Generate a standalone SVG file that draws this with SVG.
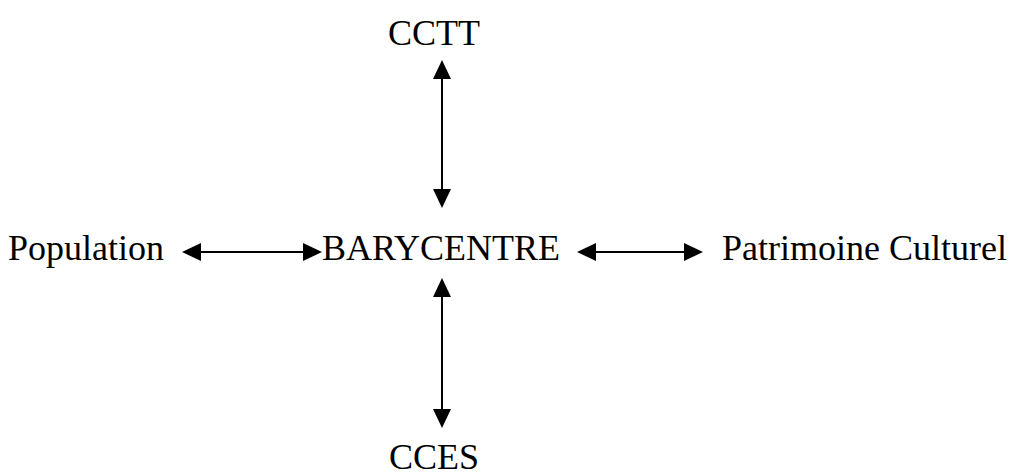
<svg xmlns="http://www.w3.org/2000/svg" width="1011" height="475" viewBox="0 0 1011 475">
<style>
text{font-family:"Liberation Serif","Times New Roman",serif;font-size:36px;fill:#000}
.c{stroke:#000;stroke-width:2;fill:none}
.h{fill:#000}
</style>
<rect width="1011" height="475" fill="#fff"/>
<g id="connectors">
<line class="c" x1="442" y1="62" x2="442" y2="206"/>
<polygon class="h" points="442,60 433,79 451,79"/>
<polygon class="h" points="442,208 433,189 451,189"/>
<line class="c" x1="442" y1="280" x2="442" y2="425"/>
<polygon class="h" points="442,278 433,297 451,297"/>
<polygon class="h" points="442,428 433,409 451,409"/>
<line class="c" x1="184" y1="252" x2="320" y2="252"/>
<polygon class="h" points="182,252 201,243 201,261"/>
<polygon class="h" points="322,252 303,243 303,261"/>
<line class="c" x1="579" y1="252" x2="701" y2="252"/>
<polygon class="h" points="577,252 596,243 596,261"/>
<polygon class="h" points="703,252 684,243 684,261"/>
</g>
<g id="cctt"><text x="434" y="45" text-anchor="middle">CCTT</text></g>
<g id="population"><text x="8" y="260">Population</text></g>
<g id="barycentre"><text x="322" y="260">BARYCENTRE</text></g>
<g id="patrimoine"><text x="722" y="260">Patrimoine Culturel</text></g>
<g id="cces"><text x="434" y="469" text-anchor="middle">CCES</text></g>
</svg>
